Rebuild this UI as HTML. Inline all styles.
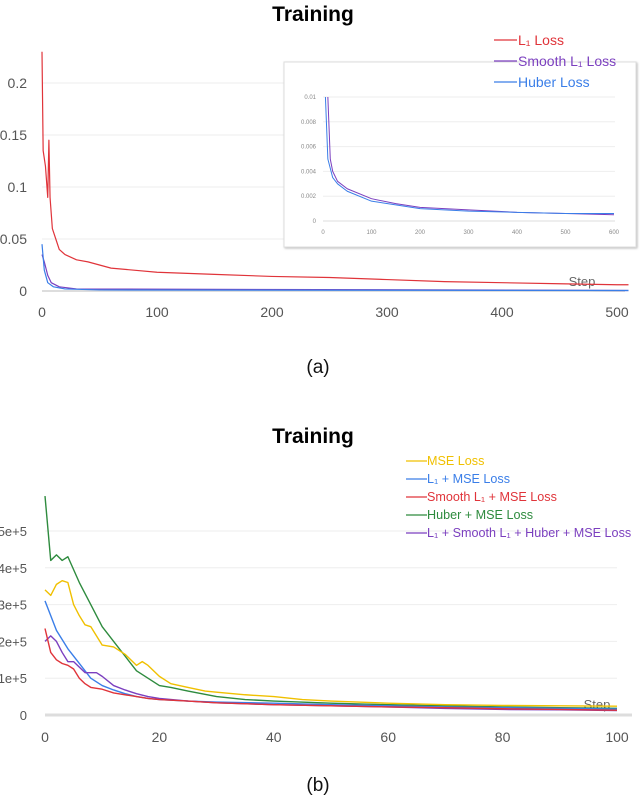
<!DOCTYPE html>
<html><head><meta charset="utf-8"><style>
html,body{margin:0;padding:0;background:#fff;}
svg{display:block;font-family:"Liberation Sans","DejaVu Sans",sans-serif;}
</style></head><body>
<svg id="c" width="640" height="802" viewBox="0 0 640 802"></svg>
<script>
// ---- Chart (a) data ----
const aL1Steps = [0,1,3,5,6,7,9,12,15,20,30,40,50,60,80,100,150,200,250,300,350,400,450,500,510];
const aL1Vals  = [0.23,0.135,0.12,0.09,0.145,0.09,0.06,0.05,0.04,0.035,0.03,0.028,0.025,0.022,0.02,0.018,0.016,0.014,0.013,0.011,0.009,0.008,0.007,0.006,0.006];
const aHuberSteps = [0,2,5,10,20,50,510];
const aHuberVals  = [0.045,0.02,0.008,0.004,0.002,0.001,0.0005];
const aSmoothSteps = [0,2,5,8,15,30,510];
const aSmoothVals  = [0.035,0.028,0.015,0.008,0.004,0.002,0.0005];
const aYTicks = [0,0.05,0.1,0.15,0.2];
const aYLabels = ["0","0.05","0.1","0.15","0.2"];
const aXTicks = [0,100,200,300,400,500];
// inset
const inSmoothSteps = [10,15,20,30,50,100,150,200,300,400,500,600];
const inSmoothVals  = [0.01,0.005,0.004,0.0032,0.0026,0.0018,0.0014,0.0011,0.0009,0.0007,0.0006,0.0005];
const inHuberSteps = [5,10,20,30,50,100,150,200,300,400,500,600];
const inHuberVals  = [0.01,0.005,0.0035,0.003,0.0024,0.0016,0.0013,0.001,0.0008,0.0007,0.0006,0.0006];
const inYTicks = [0,0.002,0.004,0.006,0.008,0.01];
const inYLabels = ["0","0.002","0.004","0.006","0.008","0.01"];
const inXTicks = [0,100,200,300,400,500,600];
// ---- Chart (b) data (units 1e5) ----
const bMseSteps = [0,1,2,3,4,5,6,7,8,9,10,12,14,16,17,18,20,22,25,28,30,35,40,45,50,60,70,80,90,100];
const bMseVals  = [3.4,3.25,3.55,3.65,3.6,3.0,2.7,2.45,2.4,2.15,1.9,1.85,1.65,1.35,1.45,1.35,1.05,0.85,0.75,0.65,0.62,0.55,0.5,0.42,0.38,0.32,0.28,0.26,0.25,0.24];
const bL1Steps = [0,2,4,6,8,10,12,14,16,18,20,25,30,40,50,60,70,80,90,100];
const bL1Vals  = [3.1,2.3,1.8,1.4,1.0,0.8,0.68,0.58,0.5,0.45,0.42,0.38,0.35,0.32,0.28,0.25,0.22,0.2,0.18,0.16];
const bSmoothSteps = [0,1,2,3,4,5,6,7,8,10,12,14,16,18,20,25,30,40,50,60,70,80,90,100];
const bSmoothVals  = [2.35,1.7,1.5,1.4,1.35,1.25,1.0,0.85,0.75,0.7,0.6,0.55,0.5,0.45,0.42,0.38,0.33,0.28,0.25,0.22,0.2,0.17,0.15,0.13];
const bHuberSteps = [0,1,2,3,4,6,8,10,12,14,16,18,20,22,25,30,35,40,50,60,70,80,90,100];
const bHuberVals  = [5.95,4.2,4.35,4.2,4.3,3.6,3.0,2.4,2.0,1.6,1.2,1.0,0.8,0.75,0.65,0.5,0.42,0.38,0.32,0.28,0.25,0.22,0.2,0.18];
const bAllSteps = [0,1,2,3,4,5,6,7,9,10,12,14,16,18,20,25,30,40,50,60,70,80,90,100];
const bAllVals  = [2.0,2.15,2.0,1.7,1.45,1.45,1.3,1.15,1.15,1.05,0.8,0.68,0.58,0.5,0.45,0.38,0.33,0.28,0.25,0.22,0.18,0.15,0.14,0.12];
const bYTicks = [0,1,2,3,4,5];
const bYLabels = ["0","1e+5","2e+5","3e+5","4e+5","5e+5"];
const bXTicks = [0,20,40,60,80,100];

const NS="http://www.w3.org/2000/svg";
const svg=document.getElementById('c');
function el(tag,attrs,parent){const e=document.createElementNS(NS,tag);for(const k in attrs)e.setAttribute(k,attrs[k]);(parent||svg).appendChild(e);return e;}
function txt(s,attrs,parent){const e=el('text',attrs,parent);e.textContent=s;return e;}

const ax=s=>42+s*1.15, ay=v=>291-v*1040;
const ix=s=>323+s*0.485, iy=v=>221-v*12400;
const bx=s=>45+s*5.72, by=v=>715-v*36.8;
function line(steps,vals,fx,fy,color,w,name){
  const p=el('polyline',{points:steps.map((s,i)=>fx(s)+','+fy(vals[i])).join(' '),fill:'none',stroke:color,'stroke-width':w,'stroke-linejoin':'round'});
  
  
}

// ---- (a) ----
txt('Training',{x:313,y:21,'text-anchor':'middle','font-size':21,'font-weight':'bold',fill:'#000',});
aYTicks.forEach((t,i)=>{
  if(t>0) el('line',{x1:42,x2:620,y1:ay(t),y2:ay(t),stroke:'#eee','stroke-width':1,});
  txt(aYLabels[i],{x:27,y:ay(t)+5,'text-anchor':'end','font-size':14,fill:'#555',});
});
el('line',{x1:42,x2:625,y1:291,y2:291,stroke:'#ddd','stroke-width':2,});
aXTicks.forEach(t=>txt(String(t),{x:ax(t),y:317,'text-anchor':'middle','font-size':14,fill:'#555',}));
txt('Step',{x:582,y:286,'text-anchor':'middle','font-size':13,fill:'#666',});
line(aL1Steps,aL1Vals,ax,ay,'#e0343a',1.2,'l1-loss-line');
line(aSmoothSteps,aSmoothVals,ax,ay,'#7b3fbf',1.2,'smooth-l1-loss-line');
line(aHuberSteps,aHuberVals,ax,ay,'#3a7ee8',1.2,'huber-loss-line');
el('rect',{x:284,y:62,width:352,height:185,fill:'#fff',stroke:'#ddd','stroke-width':1,style:'filter:drop-shadow(1px 1px 1px #bbb)'});
inYTicks.forEach((t,i)=>{
  if(t>0) el('line',{x1:323,x2:615,y1:iy(t),y2:iy(t),stroke:'#eee','stroke-width':1,});
  txt(inYLabels[i],{x:316,y:iy(t)+2,'text-anchor':'end','font-size':6,fill:'#888',});
});
el('line',{x1:323,x2:615,y1:221,y2:221,stroke:'#ddd','stroke-width':1,});
inXTicks.forEach(t=>txt(String(t),{x:ix(t),y:234,'text-anchor':'middle','font-size':6,fill:'#888',}));
line(inSmoothSteps,inSmoothVals,ix,iy,'#7b3fbf',1,'inset-smooth-l1-line');
line(inHuberSteps,inHuberVals,ix,iy,'#3a7ee8',1,'inset-huber-line');
const aLeg=[['#e0343a','L₁ Loss',40],['#7b3fbf','Smooth L₁ Loss',61],['#3a7ee8','Huber Loss',82]];
aLeg.forEach(([c,t,y])=>{
  const g=el('g',{});
  el('line',{x1:494,x2:517,y1:y,y2:y,stroke:c,'stroke-width':1.3},g);
  txt(t,{x:518,y:y+5,'font-size':14,fill:c},g);
});
txt('(a)',{x:318,y:373,'text-anchor':'middle','font-size':19,fill:'#111',});

// ---- (b) ----
txt('Training',{x:313,y:443,'text-anchor':'middle','font-size':21,'font-weight':'bold',fill:'#000',});
bYTicks.forEach((t,i)=>{
  if(t>0) el('line',{x1:45,x2:617,y1:by(t),y2:by(t),stroke:'#eee','stroke-width':1,});
  txt(bYLabels[i],{x:27,y:by(t)+5,'text-anchor':'end','font-size':13,fill:'#555',});
});
el('line',{x1:45,x2:632,y1:715,y2:715,stroke:'#ddd','stroke-width':3,});
bXTicks.forEach(t=>txt(String(t),{x:bx(t),y:742,'text-anchor':'middle','font-size':14,fill:'#555',}));
txt('Step',{x:597,y:709,'text-anchor':'middle','font-size':13,fill:'#666',});
line(bHuberSteps,bHuberVals,bx,by,'#2e8b3e',1.4,'huber-mse-line');
line(bMseSteps,bMseVals,bx,by,'#f0c000',1.4,'mse-line');
line(bL1Steps,bL1Vals,bx,by,'#3a7ee8',1.4,'l1-mse-line');
line(bAllSteps,bAllVals,bx,by,'#7b3fbf',1.4,'all-losses-line');
line(bSmoothSteps,bSmoothVals,bx,by,'#e0343a',1.4,'smooth-l1-mse-line');
const bLeg=[['#f0c000','MSE Loss',461],['#3a7ee8','L₁ + MSE Loss',479],['#e0343a','Smooth L₁ + MSE Loss',497],['#2e8b3e','Huber + MSE Loss',515],['#7b3fbf','L₁ + Smooth L₁ + Huber + MSE Loss',533]];
bLeg.forEach(([c,t,y])=>{
  const g=el('g',{});
  el('line',{x1:406,x2:427,y1:y,y2:y,stroke:c,'stroke-width':1.3},g);
  txt(t,{x:427,y:y+4,'font-size':12.6,fill:c},g);
});
txt('(b)',{x:318,y:791,'text-anchor':'middle','font-size':19,fill:'#111',});
</script>
</body></html>
